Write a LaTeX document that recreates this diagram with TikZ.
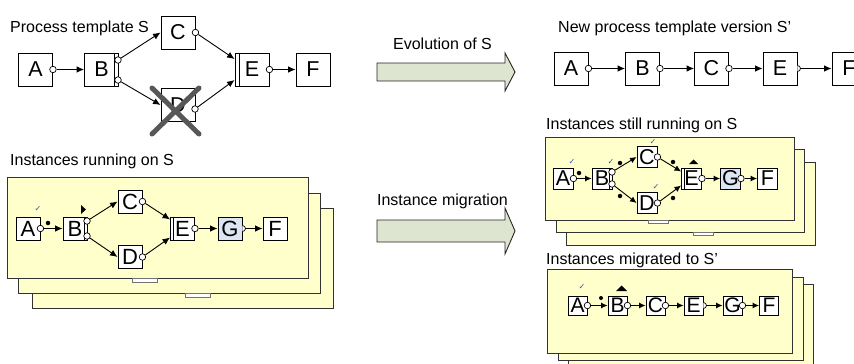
\documentclass[tikz,border=0pt]{standalone}
\usepackage{fontspec}
\setmainfont{Liberation Sans}
\newfontfamily\dejavu{DejaVu Sans}
\usetikzlibrary{arrows.meta,calc}
\definecolor{sheetfill}{RGB}{255,255,204}
\definecolor{sheetline}{RGB}{50,50,50}
\definecolor{arrowfill}{RGB}{221,228,207}
\definecolor{runfill}{RGB}{220,230,242}
\definecolor{checkblue}{RGB}{50,90,190}
\definecolor{crossgray}{RGB}{88,88,88}

\tikzset{
  actbase/.style={draw, fill=white, inner sep=0pt, line width=0.9pt},
  pbox/.style={actbase, minimum width=34pt, minimum height=33pt, font=\fontsize{21.5}{21.5}\selectfont},
  ibox/.style={actbase, minimum width=24pt, minimum height=23pt, font=\fontsize{22}{22}\selectfont},
  rbox/.style={actbase, minimum width=20pt, minimum height=21pt, font=\fontsize{21.5}{21.5}\selectfont},
  mbox/.style={actbase, minimum width=19pt, minimum height=19pt, font=\fontsize{21}{21}\selectfont},
  port/.style={circle, draw, fill=white, inner sep=0pt, minimum size=6.5pt, line width=0.7pt},
  flow/.style={line width=0.9pt, -{Latex[length=7.5pt,width=6.5pt]}},
  sflow/.style={line width=0.9pt, -{Latex[length=6.5pt,width=6pt]}},
  sheet/.style={draw=sheetline, fill=sheetfill, line width=0.9pt},
  tab/.style={draw=black!55, fill=white, line width=0.7pt},
  token/.style={circle, fill=black, inner sep=0pt, minimum size=4.5pt},
  done/.style={text=checkblue, font=\dejavu\fontsize{8}{8}\selectfont, inner sep=0pt},
  caption/.style={font=\fontsize{16}{16}\selectfont, inner sep=0pt, anchor=base west},
  bigarrow/.style={draw=black!85, fill=arrowfill, line width=0.9pt},
  marker/.style={fill=black},
}

% half port on the right side of a node, with a coordinate at its outer point
\newcommand{\halfport}[3]{%
  \draw[fill=white, line width=0.7pt] ($(#1.east)+(0,-#2)$) arc[start angle=90, end angle=-90, radius=#2 pt];
  \coordinate (#3) at ($(#1.east)+(#2,0)$);
}

\begin{document}
\begin{tikzpicture}[x=1pt, y=-1pt]
\useasboundingbox (0,0) rectangle (854,364);

% ---------------- process template S ----------------
\node[caption] (capS) at (10,32) {Process template S};
\node[pbox] (tA) at (35.5,69.5) {A};
\node[pbox] (tB) at (101.5,69.5) {B};
\node[pbox] (tC) at (178,32.5) {C};
\node[pbox] (tD) at (178,105) {D};
\node[pbox] (tE) at (252,69.5) {E};
\node[pbox] (tF) at (313,69.5) {F};
\draw[line width=0.9pt] ($(tB.north east)+(-5,0)$) -- ($(tB.south east)+(-5,0)$);
\draw[line width=0.9pt] ($(tE.north west)+(5,0)$) -- ($(tE.south west)+(5,0)$);
\node[port] (tAp) at (tA.east) {};
\node[port] (tBp1) at (118,60) {};
\node[port] (tBp2) at (118,80) {};
\node[port] (tCp) at (tC.east) {};
\node[port] (tDp) at (195,109) {};
\node[port] (tEp) at (tE.east) {};
\draw[flow] (tAp) -- (tB);
\draw[flow] (tBp1) -- (tC.west);
\draw[flow] (tBp2) -- (tD.west);
\draw[flow] (tCp) -- (tE.149);
\draw[flow] (tDp) -- (tE.211);
\draw[flow] (tEp) -- (tF);
% activity D is removed
\draw[crossgray, line width=5pt, line cap=round] (152,88) -- (199,134);
\draw[crossgray, line width=5pt, line cap=round] (199,88) -- (152,134);

% ---------------- evolution / migration arrows ----------------
\node[font=\fontsize{16}{16}\selectfont, inner sep=0pt, anchor=base] (evo) at (442.5,49) {Evolution of S};
\draw[bigarrow] (377,63) -- (505,63) -- (505,53) -- (515,72) -- (505,91) -- (505,81) -- (377,81) -- cycle;
\node[font=\fontsize{16}{16}\selectfont, inner sep=0pt, anchor=base] (mig) at (442.5,205) {Instance migration};
\draw[bigarrow] (377,220) -- (505,220) -- (505,208) -- (515,231) -- (505,254) -- (505,242) -- (377,242) -- cycle;

% ---------------- new process template S' ----------------
\node[caption] (capN) at (558,32) {New process template version S'};
\node[pbox] (nA) at (571,68.5) {A};
\node[pbox] (nB) at (642.5,68.5) {B};
\node[pbox] (nC) at (711.5,68.5) {C};
\node[pbox] (nE) at (780,68.5) {E};
\node[pbox] (nF) at (849,68.5) {F};
\node[port] (nAp) at (nA.east) {};
\node[port] (nBp) at (nB.east) {};
\node[port] (nCp) at (nC.east) {};
\halfport{nE}{3}{nEp}
\draw[flow] (nAp) -- (nB);
\draw[flow] (nBp) -- (nC);
\draw[flow] (nCp) -- (nE);
\draw[flow] (nEp) -- (nF);

% ---------------- instances running on S ----------------
\node[caption] (capI) at (10,165) {Instances running on S};
\draw[sheet] (32,208) rectangle (333,308);
\draw[sheet] (18,193) rectangle (320,293);
\draw[sheet] (7,177) rectangle (308,278);
\draw[tab] (132,278) rectangle (157,282);
\draw[tab] (185,293) rectangle (210,297);

\node[ibox] (iA) at (28,228.5) {A};
\node[ibox] (iB) at (75,228.5) {B};
\node[ibox] (iC) at (130,201.5) {C};
\node[ibox] (iD) at (130,257) {D};
\node[ibox] (iE) at (182.5,228.5) {E};
\node[ibox, fill=runfill] (iG) at (230,228.5) {G};
\node[ibox] (iF) at (275,228.5) {F};
\draw[line width=0.9pt] ($(iB.north east)+(-3,0)$) -- ($(iB.south east)+(-3,0)$);
\draw[line width=0.9pt] ($(iE.north west)+(3,0)$) -- ($(iE.south west)+(3,0)$);
\node[port] (iAp) at (iA.east) {};
\node[port] (iBp1) at (87,221) {};
\node[port] (iBp2) at (87,236) {};
\node[port] (iCp) at (iC.east) {};
\node[port] (iDp) at (iD.east) {};
\node[port] (iEp) at (iE.east) {};
\halfport{iG}{3}{iGp}
\draw[flow] (iAp) -- (iB);
\draw[flow] (iBp1) -- (iC.west);
\draw[flow] (iBp2) -- (iD.west);
\draw[flow] (iCp) -- (iE.144);
\draw[flow] (iDp) -- (iE.216);
\draw[flow] (iEp) -- (iG);
\draw[flow] (iGp) -- (iF);
\node[done] (iAok) at (38,209) {✓};
\node[token] (iAt) at (48,223) {};
\fill[marker] (81,205) -- (86,209.5) -- (81,214) -- cycle;

% ---------------- instances still running on S ----------------
\node[caption] (capR) at (546,129) {Instances still running on S};
\draw[sheet] (566,162) rectangle (815,245);
\draw[sheet] (556,149) rectangle (804,232);
\draw[sheet] (545,137) rectangle (794,220);
\draw[tab] (648,220) rectangle (668,223);
\draw[tab] (693,232) rectangle (713,235);

\node[rbox] (rA) at (563,178.5) {A};
\node[rbox] (rB) at (602,178.5) {B};
\node[rbox] (rC) at (647,157) {C};
\node[rbox] (rD) at (647,203) {D};
\node[rbox] (rE) at (691.5,178.5) {E};
\node[rbox, fill=runfill] (rG) at (730.5,178.5) {G};
\node[rbox] (rF) at (767.5,178.5) {F};
\draw[line width=0.9pt] ($(rB.north east)+(-3,0)$) -- ($(rB.south east)+(-3,0)$);
\draw[line width=0.9pt] ($(rE.north west)+(3,0)$) -- ($(rE.south west)+(3,0)$);
\node[port] (rAp) at (rA.east) {};
\node[port] (rBp1) at (612,172) {};
\node[port] (rBp2) at (612,184) {};
\node[port] (rCp) at (rC.east) {};
\node[port] (rDp) at (rD.east) {};
\node[port] (rEp) at (rE.east) {};
\node[port] (rGp) at (rG.east) {};
\draw[sflow] (rAp) -- (rB);
\draw[sflow] (rBp1) -- (rC.west);
\draw[sflow] (rBp2) -- (rD.west);
\draw[sflow] (rCp) -- (rE.146);
\draw[sflow] (rDp) -- (rE.214);
\draw[sflow] (rEp) -- (rG);
\draw[sflow] (rGp) -- (rF);
\node[done] (rAok) at (572,162) {✓};
\node[done] (rBok) at (611,162) {✓};
\node[done] (rCok) at (653,142) {✓};
\node[done] (rDok) at (656,187) {✓};
\node[token] (rt1) at (579,173) {};
\node[token] (rt2) at (620,163) {};
\node[token] (rt3) at (620,196) {};
\node[token] (rt4) at (673,162) {};
\node[token] (rt5) at (673,198) {};
\fill[marker] (689,164) -- (693.5,159.5) -- (698,164) -- cycle;

% ---------------- instances migrated to S' ----------------
\node[caption] (capM) at (546,264) {Instances migrated to S'};
\draw[sheet] (568,284) rectangle (813,372);
\draw[sheet] (558,277) rectangle (803,360);
\draw[sheet] (547,269) rectangle (792,353);

\node[mbox] (mA) at (577.5,305.5) {A};
\node[mbox] (mB) at (617.5,305.5) {B};
\node[mbox] (mC) at (655.5,305.5) {C};
\node[mbox] (mE) at (693.5,305.5) {E};
\node[mbox] (mG) at (732.5,305.5) {G};
\node[mbox] (mF) at (769,305.5) {F};
\node[port] (mAp) at (mA.east) {};
\node[port] (mBp) at (mB.east) {};
\node[port] (mCp) at (mC.east) {};
\halfport{mE}{3}{mEp}
\node[port] (mGp) at (mG.east) {};
\draw[sflow] (mAp) -- (mB);
\draw[sflow] (mBp) -- (mC);
\draw[sflow] (mCp) -- (mE);
\draw[sflow] (mEp) -- (mG);
\draw[sflow] (mGp) -- (mF);
\node[done] (mAok) at (582,287) {✓};
\node[token, minimum size=4pt] (mt1) at (601,298) {};
\fill[marker] (616,291) -- (621.5,285.5) -- (627,291) -- cycle;
\end{tikzpicture}
\end{document}
